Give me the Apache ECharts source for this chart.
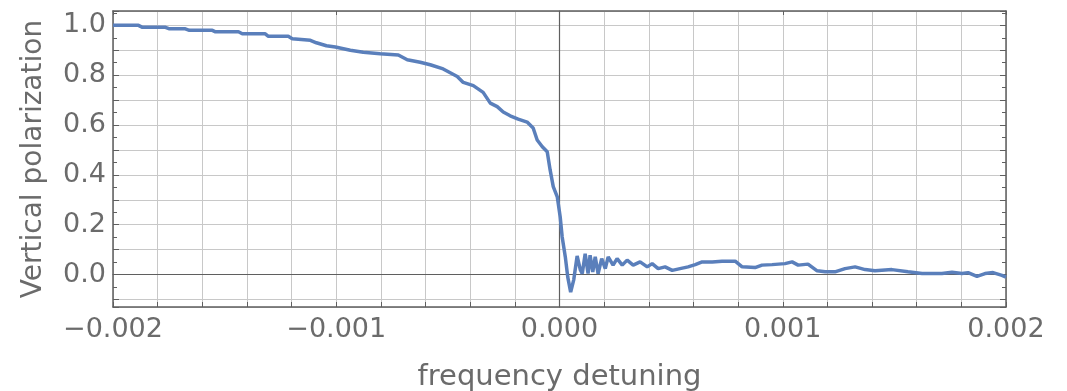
<!DOCTYPE html>
<html>
<head>
<meta charset="utf-8">
<script src="https://cdn.jsdelivr.net/npm/echarts@6/dist/echarts.min.js"></script>
<style>
  html, body { margin: 0; padding: 0; background: #fff; }
  #chart { width: 1067px; height: 391px; }
</style>
</head>
<body>
<div id="chart"></div>
<script>
// detuning values
const detuning = [-0.002, -0.001886, -0.001868, -0.001765, -0.001747, -0.001676, -0.001658, -0.001555, -0.001541, -0.001438,
  -0.001421, -0.001318, -0.001304, -0.001215, -0.001197, -0.001116, -0.001089, -0.001044, -0.001004, -0.000937,
  -0.000879, -0.000803, -0.000722, -0.000682, -0.000624, -0.000579, -0.000521, -0.000458, -0.000431, -0.000386,
  -0.000342, -0.000310, -0.000279, -0.000252, -0.000221, -0.000185, -0.000145, -0.000118, -0.000100, -0.000077,
  -0.000055, -0.000042, -0.000028, -0.000010, 0.000003, 0.000012, 0.000026, 0.000037, 0.000050, 0.000064,
  0.000079, 0.000093, 0.000102, 0.000115, 0.000128, 0.000137, 0.000149, 0.000160, 0.000173, 0.000189,
  0.000205, 0.000218, 0.000240, 0.000258, 0.000281, 0.000303, 0.000330, 0.000361, 0.000393, 0.000415,
  0.000442, 0.000473, 0.000505, 0.000540, 0.000576, 0.000608, 0.000639, 0.000684, 0.000728, 0.000787,
  0.000818, 0.000876, 0.000907, 0.000952, 0.001010, 0.001042, 0.001069, 0.001113, 0.001154, 0.001190,
  0.001234, 0.001279, 0.001324, 0.001369, 0.001413, 0.001489, 0.001561, 0.001624, 0.001713, 0.001758,
  0.001803, 0.001830, 0.001870, 0.001906, 0.001942, 0.001982, 0.002];

const polarization = [1.000, 1.000, 0.992, 0.992, 0.986, 0.986, 0.980, 0.980, 0.974, 0.974,
  0.966, 0.966, 0.956, 0.956, 0.946, 0.940, 0.930, 0.918, 0.913, 0.900,
  0.892, 0.886, 0.881, 0.862, 0.852, 0.842, 0.825, 0.795, 0.771, 0.758,
  0.731, 0.688, 0.674, 0.652, 0.637, 0.624, 0.612, 0.588, 0.540, 0.513,
  0.493, 0.420, 0.353, 0.312, 0.232, 0.151, 0.071, -0.010, -0.070, -0.020,
  0.075, 0.020, 0.004, 0.084, 0.004, 0.078, 0.011, 0.071, 0.004, 0.064,
  0.024, 0.071, 0.038, 0.064, 0.038, 0.058, 0.038, 0.051, 0.031, 0.044,
  0.024, 0.031, 0.017, 0.024, 0.031, 0.040, 0.051, 0.051, 0.054, 0.054,
  0.031, 0.028, 0.038, 0.040, 0.044, 0.051, 0.038, 0.042, 0.015, 0.011,
  0.011, 0.024, 0.031, 0.020, 0.015, 0.020, 0.011, 0.004, 0.004, 0.009,
  0.004, 0.008, -0.007, 0.004, 0.008, -0.003, -0.010];

const xLabels = [-0.002, -0.001, 0, 0.001, 0.002];
const yLabels = [0, 0.2, 0.4, 0.6, 0.8, 1.0];

const X_MIN = -0.002, X_MAX = 0.002;
const Y_MIN = -0.13, Y_MAX = 1.0575;

const frameColor = '#5f5f5f';
const textColor = '#6b6b6b';
const gridColor = '#c8c8c8';
const font = 'DejaVu Sans';

const chart = echarts.init(document.getElementById('chart'));

function fmtX(v) {
    const hit = xLabels.find(t => Math.abs(t - v) < 1e-9);
    if (hit === undefined) return '';
    const s = Math.abs(hit).toFixed(3);
    return hit < 0 ? '\u2212' + s : s;
}
function fmtY(v) {
    const hit = yLabels.find(t => Math.abs(t - v) < 1e-9);
    return hit === undefined ? '' : hit.toFixed(1);
}

const option = {
    animation: false,
    backgroundColor: '#fff',
    grid: { left: 113, right: 61, top: 11, bottom: 84, outerBoundsMode: 'none', containLabel: false },
    xAxis: [
        {
            type: 'value', position: 'bottom', min: X_MIN, max: X_MAX, interval: 0.0002,
            name: 'frequency detuning', nameLocation: 'middle', nameGap: 56,
            nameTextStyle: { fontFamily: font, fontSize: 29, color: textColor },
            axisLine: { show: true, onZero: false, lineStyle: { color: frameColor, width: 1.5 } },
            axisTick: { show: true, inside: true, length: 5, lineStyle: { color: frameColor } },
            axisLabel: { formatter: fmtX, fontFamily: font, fontSize: 27, color: textColor, margin: 9 },
            splitLine: { show: true, lineStyle: { color: gridColor, width: 1 } }
        },
        {
            type: 'value', position: 'top', min: X_MIN, max: X_MAX, interval: 0.001,
            axisLine: { show: true, onZero: false, lineStyle: { color: frameColor, width: 1.5 } },
            axisTick: { show: true, inside: true, length: 4, lineStyle: { color: frameColor } },
            axisLabel: { show: false },
            splitLine: { show: false }
        },
        {
            // horizontal line at y = 0
            type: 'value', min: X_MIN, max: X_MAX,
            axisLine: { show: true, onZero: true, lineStyle: { color: frameColor, width: 1.2 } },
            axisTick: { show: false }, axisLabel: { show: false }, splitLine: { show: false }
        }
    ],
    yAxis: [
        {
            type: 'value', position: 'left', min: Y_MIN, max: Y_MAX, minInterval: 0.1, maxInterval: 0.1, splitNumber: 12,
            name: 'Vertical polarization', nameLocation: 'middle', nameGap: 65,
            nameTextStyle: { fontFamily: font, fontSize: 28, color: textColor },
            axisLine: { show: true, onZero: false, lineStyle: { color: frameColor, width: 1.5 } },
            axisTick: { show: true, inside: true, length: 6, lineStyle: { color: frameColor } },
            minorTick: { show: true, splitNumber: 2, length: 4, lineStyle: { color: frameColor } },
            axisLabel: { formatter: fmtY, showMinLabel: false, showMaxLabel: false, fontFamily: font, fontSize: 27, color: textColor, margin: 7 },
            splitLine: { show: true, lineStyle: { color: gridColor, width: 1 } }
        },
        {
            type: 'value', position: 'right', min: Y_MIN, max: Y_MAX, minInterval: 0.1, maxInterval: 0.1, splitNumber: 12,
            axisLine: { show: true, onZero: false, lineStyle: { color: frameColor, width: 1.5 } },
            axisTick: { show: true, inside: true, length: 6, lineStyle: { color: frameColor } },
            minorTick: { show: true, splitNumber: 2, length: 4, lineStyle: { color: frameColor } },
            axisLabel: { show: false },
            splitLine: { show: false }
        },
        {
            // vertical line at x = 0
            type: 'value', min: Y_MIN, max: Y_MAX,
            axisLine: { show: true, onZero: true, lineStyle: { color: frameColor, width: 1.2 } },
            axisTick: { show: false }, axisLabel: { show: false }, splitLine: { show: false }
        }
    ],
    series: [
        {
            type: 'line',
            xAxisIndex: 0,
            yAxisIndex: 0,
            data: detuning.map((x, i) => [x, polarization[i]]),
            showSymbol: false,
            lineStyle: { color: '#5a7fbb', width: 3.5 },
            z: 5
        }
    ]
};

chart.setOption(option);
</script>
</body>
</html>
